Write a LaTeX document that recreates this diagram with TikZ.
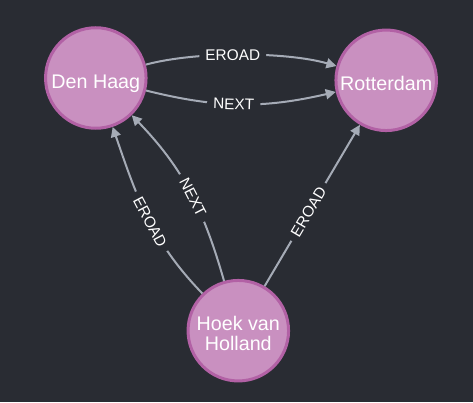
\documentclass[tikz,border=0pt]{standalone}
\usepackage{fontspec}
\setmainfont{Liberation Sans}
\usetikzlibrary{arrows.meta}
\definecolor{bg}{HTML}{292C33}
\definecolor{nodefill}{HTML}{C990C0}
\definecolor{nodeline}{HTML}{B261A5}
\definecolor{relcol}{HTML}{A5ABB6}
\begin{document}
\begin{tikzpicture}[x=1pt,y=1pt,
  city/.style={circle, draw=nodeline, fill=nodefill, line width=3pt,
    minimum size=100.5pt, inner sep=0pt, text=white,
    font=\fontsize{19.7}{19.7}\selectfont, align=center,
    text height=21pt, text depth=0pt},
  relline/.style={draw=relcol, line width=2pt, -{Triangle[length=10pt,width=10pt]}},
  rlabel/.style={fill=bg, text=white, font=\fontsize{15.4}{15.4}\selectfont,
    inner xsep=6pt, inner ysep=2pt, sloped, pos=0.46}]
\fill[bg] (0,0) rectangle (473,402);
\useasboundingbox (0,0) rectangle (473,402);
\node[city] (dh) at (95.8,324) {Den Haag};
\node[city] (rt) at (386.2,321.7) {Rotterdam};
\node[city, text height=38.6pt] (hk) at (238.3,71.3) {Hoek van\\Holland};
\draw[relline] (dh) to[out=15,in=164,looseness=0.7] node[rlabel]{EROAD} (rt);
\draw[relline] (dh) to[out=-14,in=193,looseness=1.0] node[rlabel]{NEXT} (rt);
\draw[relline] (hk) to[out=134,in=289] node[rlabel, pos=0.465]{EROAD} (dh);
\draw[relline] (hk) to[out=106,in=314] node[rlabel]{NEXT} (dh);
\draw[relline] (hk) -- node[rlabel]{EROAD} (rt);
\end{tikzpicture}
\end{document}
